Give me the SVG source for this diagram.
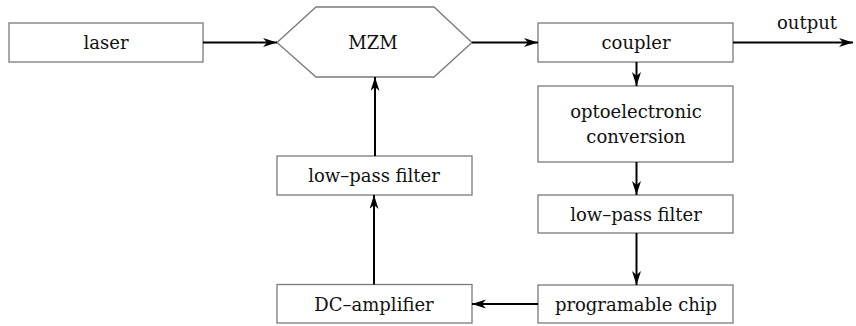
<svg xmlns="http://www.w3.org/2000/svg" width="856" height="326" viewBox="0 0 856 326">
  <defs>
    <marker id="arrow" markerUnits="userSpaceOnUse" markerWidth="15" markerHeight="10" refX="14" refY="4.5" orient="auto">
      <path d="M0,0 L14,4.5 L0,9 L4,4.5 z" fill="#000"/>
    </marker>
    <style>
      .box { fill: #fff; stroke: #7a7a7a; stroke-width: 1.3; }
      .lbl { font-family: "DejaVu Serif", "Liberation Serif", serif; font-size: 18px; fill: #111; text-anchor: middle; }
      .wire { fill: none; stroke: #000; stroke-width: 2; }
    </style>
  </defs>
  <rect width="856" height="326" fill="#fff"/>

  <g id="laser">
    <rect class="box" x="9" y="23" width="194" height="39"/>
    <text class="lbl" x="106" y="49">laser</text>
  </g>

  <g id="mzm">
    <polygon class="box" points="277,42.5 316,7 434,7 472,42.5 434,77 316,77"/>
    <text class="lbl" x="373" y="48.5">MZM</text>
  </g>

  <g id="coupler">
    <rect class="box" x="538" y="23" width="195" height="39"/>
    <text class="lbl" x="636" y="49">coupler</text>
  </g>

  <g id="opto">
    <rect class="box" x="538" y="86" width="195" height="76"/>
    <text class="lbl" x="636" y="118">optoelectronic</text>
    <text class="lbl" x="636" y="143">conversion</text>
  </g>

  <g id="lpf-right">
    <rect class="box" x="538" y="195" width="195" height="38"/>
    <text class="lbl" x="636" y="220.5">low–pass filter</text>
  </g>

  <g id="chip">
    <rect class="box" x="538" y="285" width="195" height="38"/>
    <text class="lbl" x="636" y="310.5">programable chip</text>
  </g>

  <g id="dc-amp">
    <rect class="box" x="277" y="284.5" width="195" height="38.5"/>
    <text class="lbl" x="374" y="310.5">DC–amplifier</text>
  </g>

  <g id="lpf-left">
    <rect class="box" x="277" y="156" width="195" height="39"/>
    <text class="lbl" x="374" y="181.5">low–pass filter</text>
  </g>

  <g id="output-label">
    <text class="lbl" x="807" y="29">output</text>
  </g>

  <g id="connectors">
    <line class="wire" x1="203" y1="42.5" x2="277" y2="42.5" marker-end="url(#arrow)"/>
    <line class="wire" x1="472" y1="42.5" x2="538" y2="42.5" marker-end="url(#arrow)"/>
    <line class="wire" x1="733" y1="42.5" x2="853" y2="42.5" marker-end="url(#arrow)"/>
    <line class="wire" x1="636.5" y1="62" x2="636.5" y2="86" marker-end="url(#arrow)"/>
    <line class="wire" x1="636.5" y1="162" x2="636.5" y2="195" marker-end="url(#arrow)"/>
    <line class="wire" x1="636.5" y1="233" x2="636.5" y2="285" marker-end="url(#arrow)"/>
    <line class="wire" x1="538" y1="304" x2="472" y2="304" marker-end="url(#arrow)"/>
    <line class="wire" x1="374" y1="284.5" x2="374" y2="195" marker-end="url(#arrow)"/>
    <line class="wire" x1="375" y1="156" x2="375" y2="77" marker-end="url(#arrow)"/>
  </g>
</svg>
